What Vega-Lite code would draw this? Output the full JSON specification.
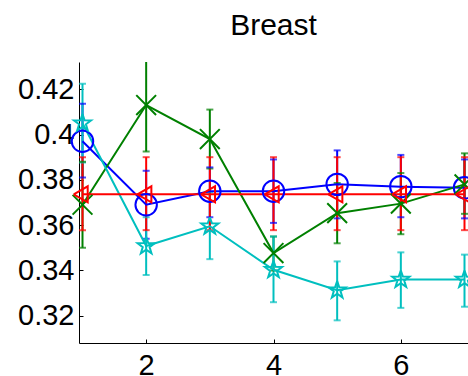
{
  "$schema": "https://vega.github.io/schema/vega-lite/v6.json",
  "width": 389,
  "height": 281,
  "autosize": "none",
  "padding": {"left": 79, "top": 62, "right": 0, "bottom": 33},
  "background": "white",
  "config": {
    "view": {"stroke": null},
    "font": "Liberation Sans",
    "axis": {"grid": false, "domainColor": "#000", "tickColor": "#000", "labelColor": "#000", "labelFont": "Liberation Sans", "labelFontSize": 29, "tickSize": -4, "title": null, "labelFontWeight": "normal"},
    "title": {"font": "Liberation Sans", "fontSize": 30, "fontWeight": "normal", "color": "#000", "offset": 21, "baseline": "alphabetic", "anchor": "middle"}
  },
  "title": "Breast",
  "data": {
    "values": [
      {"series": "blue", "x": 1, "mean": 0.397, "lo": 0.381, "hi": 0.4136},
      {"series": "blue", "x": 2, "mean": 0.369, "lo": 0.354, "hi": 0.384},
      {"series": "blue", "x": 3, "mean": 0.375, "lo": 0.3635, "hi": 0.3855},
      {"series": "blue", "x": 4, "mean": 0.375, "lo": 0.361, "hi": 0.389},
      {"series": "blue", "x": 5, "mean": 0.378, "lo": 0.363, "hi": 0.393},
      {"series": "blue", "x": 6, "mean": 0.377, "lo": 0.3635, "hi": 0.391},
      {"series": "blue", "x": 7, "mean": 0.3765, "lo": 0.363, "hi": 0.389},
      {"series": "green", "x": 1, "mean": 0.369, "lo": 0.350, "hi": 0.388},
      {"series": "green", "x": 2, "mean": 0.413, "lo": 0.3925, "hi": 0.4335},
      {"series": "green", "x": 3, "mean": 0.398, "lo": 0.385, "hi": 0.411},
      {"series": "green", "x": 4, "mean": 0.3477, "lo": 0.340, "hi": 0.355},
      {"series": "green", "x": 5, "mean": 0.3653, "lo": 0.352, "hi": 0.3786},
      {"series": "green", "x": 6, "mean": 0.3695, "lo": 0.356, "hi": 0.383},
      {"series": "green", "x": 7, "mean": 0.378, "lo": 0.365, "hi": 0.3917},
      {"series": "cyan", "x": 1, "mean": 0.405, "lo": 0.3877, "hi": 0.4224},
      {"series": "cyan", "x": 2, "mean": 0.3508, "lo": 0.338, "hi": 0.3635},
      {"series": "cyan", "x": 3, "mean": 0.3595, "lo": 0.345, "hi": 0.3745},
      {"series": "cyan", "x": 4, "mean": 0.3403, "lo": 0.326, "hi": 0.355},
      {"series": "cyan", "x": 5, "mean": 0.3313, "lo": 0.318, "hi": 0.344},
      {"series": "cyan", "x": 6, "mean": 0.336, "lo": 0.3235, "hi": 0.348},
      {"series": "cyan", "x": 7, "mean": 0.336, "lo": 0.324, "hi": 0.347},
      {"series": "red", "x": 1, "mean": 0.3736, "lo": 0.3578, "hi": 0.390},
      {"series": "red", "x": 2, "mean": 0.3736, "lo": 0.3578, "hi": 0.390},
      {"series": "red", "x": 3, "mean": 0.3736, "lo": 0.3578, "hi": 0.390},
      {"series": "red", "x": 4, "mean": 0.3736, "lo": 0.3578, "hi": 0.390},
      {"series": "red", "x": 5, "mean": 0.3736, "lo": 0.3578, "hi": 0.390},
      {"series": "red", "x": 6, "mean": 0.3736, "lo": 0.3578, "hi": 0.390},
      {"series": "red", "x": 7, "mean": 0.3736, "lo": 0.3578, "hi": 0.390}
    ]
  },
  "layer": [
    {
      "mark": {"type": "rule", "strokeWidth": 2, "clip": true},
      "encoding": {
        "x": {"field": "x", "type": "quantitative", "scale": {"domain": [0.945, 7.055], "nice": false, "zero": false},
              "axis": {"values": [2, 4, 6], "format": "d", "labelPadding": 12}},
        "y": {"field": "lo", "type": "quantitative", "scale": {"domain": [0.308, 0.432], "nice": false, "zero": false},
              "axis": {"values": [0.32, 0.34, 0.36, 0.38, 0.4, 0.42], "format": ".2~f", "labelPadding": 9}},
        "y2": {"field": "hi"},
        "color": {"field": "series", "type": "nominal", "legend": null,
                  "scale": {"domain": ["blue", "green", "cyan", "red"], "range": ["#0000ff", "#008000", "#00bfbf", "#ff0000"]}}
      }
    },
    {
      "mark": {"type": "tick", "size": 7, "thickness": 2, "orient": "horizontal", "clip": true},
      "encoding": {
        "x": {"field": "x", "type": "quantitative"},
        "y": {"field": "lo", "type": "quantitative"},
        "color": {"field": "series", "type": "nominal", "legend": null}
      }
    },
    {
      "mark": {"type": "tick", "size": 7, "thickness": 2, "orient": "horizontal", "clip": true},
      "encoding": {
        "x": {"field": "x", "type": "quantitative"},
        "y": {"field": "hi", "type": "quantitative"},
        "color": {"field": "series", "type": "nominal", "legend": null}
      }
    },
    {
      "mark": {"type": "line", "strokeWidth": 2, "interpolate": "linear"},
      "encoding": {
        "x": {"field": "x", "type": "quantitative"},
        "y": {"field": "mean", "type": "quantitative"},
        "color": {"field": "series", "type": "nominal", "legend": null},
        "order": {"field": "x", "type": "quantitative"}
      }
    },
    {
      "mark": {"type": "point", "filled": false, "strokeWidth": 2, "opacity": 1},
      "encoding": {
        "x": {"field": "x", "type": "quantitative"},
        "y": {"field": "mean", "type": "quantitative"},
        "color": {"field": "series", "type": "nominal", "legend": null},
        "shape": {"field": "series", "type": "nominal", "legend": null,
                  "scale": {"domain": ["blue", "green", "cyan", "red"], "range": ["circle", "M-1,-1L1,1M-1,1L1,-1", "M0,-1L0.235,-0.324L0.951,-0.309L0.38,0.124L0.588,0.809L0,0.4L-0.588,0.809L-0.38,0.124L-0.951,-0.309L-0.235,-0.324L0,-1", "M-1.1,0L0.65,-1L0.65,1L-1.1,0"]}},
        "size": {"field": "series", "type": "nominal", "legend": null,
                 "scale": {"domain": ["blue", "green", "cyan", "red"], "range": [460, 256, 784, 543]}}
      }
    }
  ]
}
